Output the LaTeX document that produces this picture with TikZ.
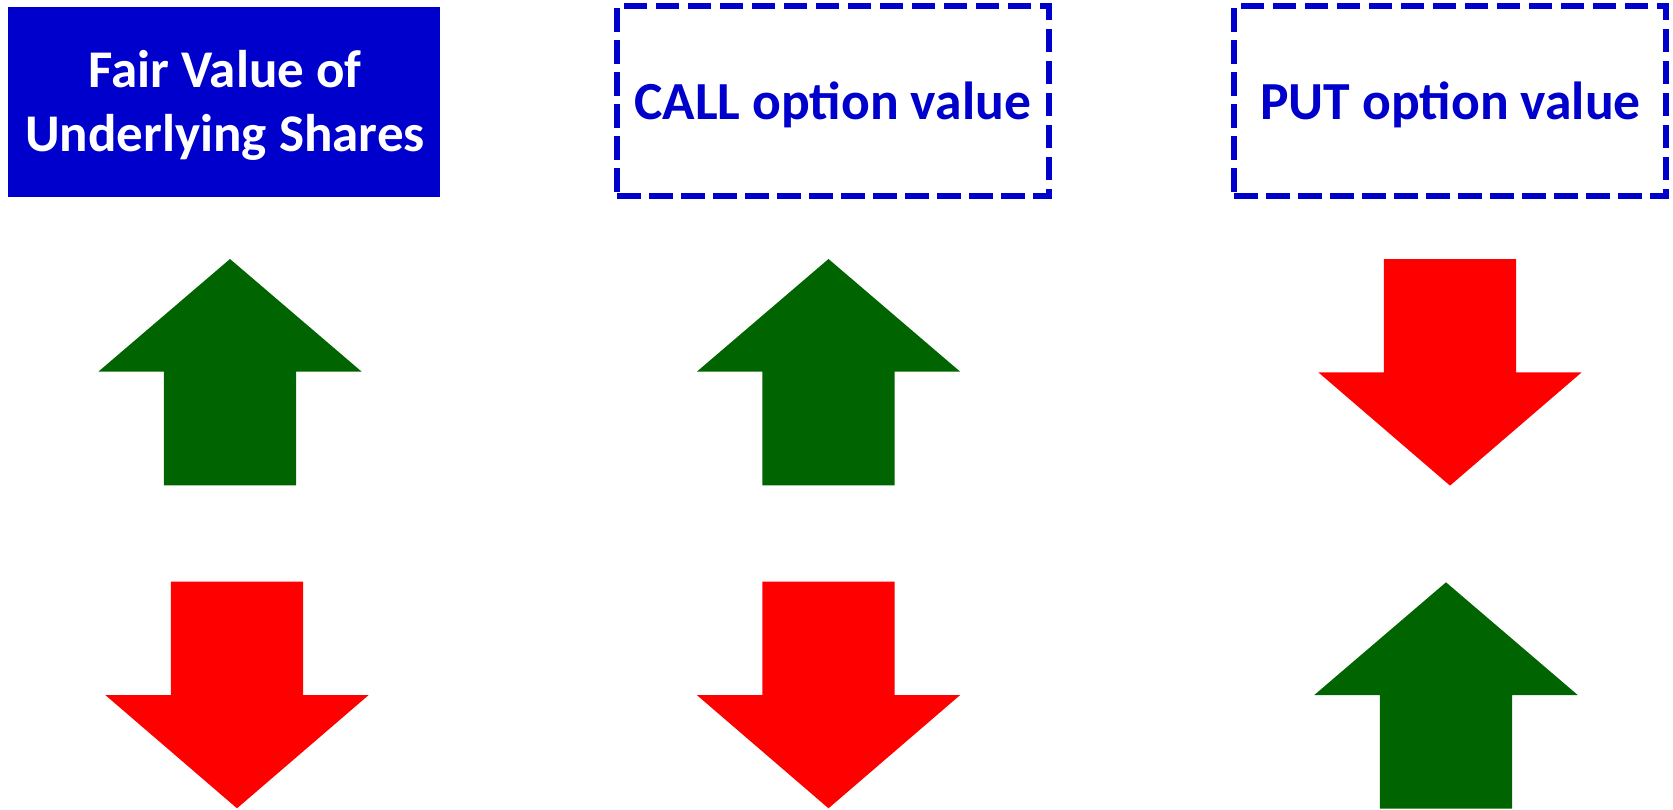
\documentclass[tikz,border=0pt]{standalone}
\usepackage{fontspec}
\setmainfont{Carlito}
\definecolor{boxblue}{RGB}{0,0,204}
\definecolor{upgreen}{RGB}{0,100,0}
\definecolor{downred}{RGB}{255,0,0}
\tikzset{
  solidbox/.style={rectangle, fill=boxblue, inner sep=0pt, minimum width=432pt, minimum height=189.7pt},
  dashbox/.style={rectangle, draw=boxblue, line width=6.7pt, dash pattern=on 23.5pt off 8.5pt, inner sep=0pt, minimum width=432pt, minimum height=190pt},
  lbl/.style={anchor=base, inner sep=0pt, font=\fontsize{53.6}{64}\selectfont\bfseries, align=center},
  uparr/.pic={\fill[upgreen] (0,0) -- (131.7,112.7) -- (66.2,112.7) -- (66.2,226.3) -- (-66.2,226.3) -- (-66.2,112.7) -- (-131.7,112.7) -- cycle;},
  downarr/.pic={\fill[downred] (-66.2,0) -- (66.2,0) -- (66.2,113.3) -- (131.7,113.3) -- (0,226.6) -- (-131.7,113.3) -- (-66.2,113.3) -- cycle;}
}
\begin{document}
\begin{tikzpicture}[x=1pt,y=-1pt]
\useasboundingbox (0,0) rectangle (1673,809);
\node[solidbox] (fv) at (224,101.8) {};
\node[lbl, text=white, font=\fontsize{53}{64}\selectfont\bfseries] (fvt) at (225,151.7) {Fair Value of\\Underlying Shares};
\node[dashbox] (call) at (833,101) {};
\node[lbl, text=boxblue] (callt) at (832.5,119.5) {CALL option value};
\node[dashbox] (put) at (1450,101) {};
\node[lbl, text=boxblue] (putt) at (1450.5,119.5) {PUT option value};
\pic at (230,259) {uparr};
\pic at (237,581.7) {downarr};
\pic at (828.5,259) {uparr};
\pic at (828.5,581.7) {downarr};
\pic at (1450,259) {downarr};
\pic at (1446,582.3) {uparr};
\end{tikzpicture}
\end{document}
